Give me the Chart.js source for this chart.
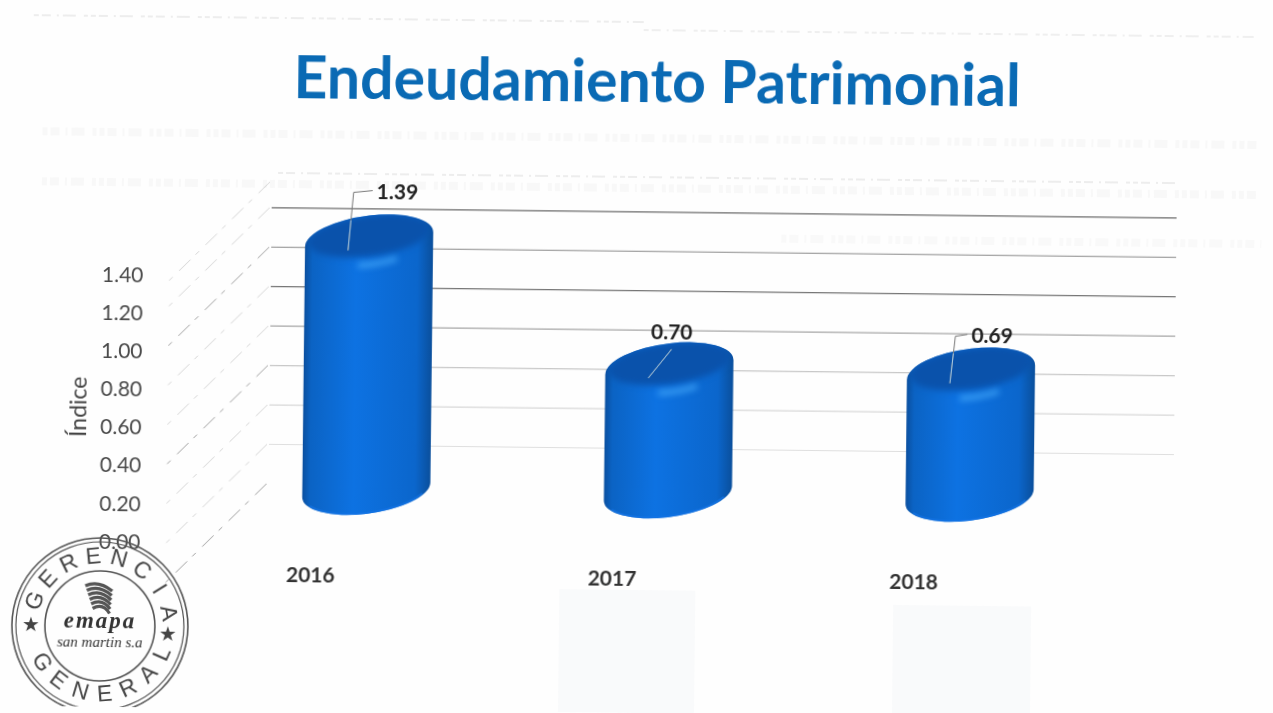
<!DOCTYPE html>
<html>
<head>
<meta charset="utf-8">
<title>Endeudamiento Patrimonial</title>
<script src="https://cdn.jsdelivr.net/npm/chart.js@4"></script>
<style>
    html, body { margin: 0; padding: 0; background: #fefefe; overflow: hidden; }
    /* la hoja escaneada esta un poco girada */
    #chart { display: block; transform: rotate(0.65deg); transform-origin: 636px 356px; }
</style>
</head>
<body>
<canvas id="chart" width="1273" height="713"></canvas>
<script>
// --- Datos ---
const years = ['2016', '2017', '2018'];
const indices = [1.39, 0.70, 0.69];
const tickValues = [0, 0.2, 0.4, 0.6, 0.8, 1.0, 1.2, 1.4];
const wallValues = [0.2, 0.4, 0.6, 0.8, 1.0, 1.2, 1.4];
const wallAlphas = [0.16, 0.2, 0.28, 0.45, 0.7, 0.6, 0.75];
const floorLines = [0, 0.2, 0.4, 0.6, 0.8, 1.0, 1.2, 1.4, 1.53];

// posicion de cada rotulo respecto al centro de la tapa
const labelDx = [5, 2, -2];
const labelDy = [-47, -35, -36];

// --- Fondo: restos del reverso de la hoja ---
const paperPlugin = {
    id: 'paper',
    beforeDraw(chart) {
        const ctx = chart.ctx;
        ctx.save();
        [[30, 22, 640, 2, 0.1], [640, 30, 1250, 2, 0.09], [40, 138, 1260, 8, 0.04],
         [40, 188, 1260, 8, 0.04], [276, 177, 1180, 2, 0.1], [780, 237, 1260, 8, 0.03]].forEach(r => {
            ctx.strokeStyle = `rgba(90,90,90,${r[4]})`;
            ctx.lineWidth = r[3];
            ctx.setLineDash([5, 3, 9, 6, 2, 4, 13, 8, 4, 3]);
            ctx.beginPath();
            ctx.moveTo(r[0], r[1]);
            ctx.lineTo(r[2], r[1]);
            ctx.stroke();
        });
        ctx.setLineDash([]);
        ctx.fillStyle = 'rgba(150,170,195,0.05)';
        ctx.fillRect(562, 590, 136, 123);
        ctx.fillRect(896, 602, 138, 111);
        ctx.restore();
    }
};

// --- Paredes del grafico 3D ---
const wallPlugin = {
    id: 'wall',
    beforeDatasetsDraw(chart) {
        const ctx = chart.ctx;
        const back = chart.scales.yWall;
        const right = chart.chartArea.right + 53;
        ctx.save();
        wallValues.forEach((v, i) => {
            const y = back.getPixelForValue(v);
            ctx.strokeStyle = `rgba(60,60,60,${wallAlphas[i]})`;
            ctx.lineWidth = 1.2;
            ctx.beginPath();
            ctx.moveTo(270, y);
            ctx.lineTo(right, y);
            ctx.stroke();
        });
        ctx.setLineDash([16, 9, 5, 7]);
        floorLines.forEach((v, i) => {
            const y = back.getPixelForValue(v);
            ctx.strokeStyle = i % 3 === 0 ? 'rgba(70,70,70,0.5)' : 'rgba(120,120,120,0.3)';
            ctx.lineWidth = 1;
            ctx.beginPath();
            ctx.moveTo(268, y);
            ctx.lineTo(168, y + 100);
            ctx.stroke();
        });
        ctx.restore();

        // titulo del eje, a la altura de las marcas bajas
        ctx.save();
        ctx.translate(80, 413);
        ctx.rotate(-Math.PI / 2);
        ctx.fillStyle = '#444';
        ctx.font = '23px Lato';
        ctx.textAlign = 'center';
        ctx.textBaseline = 'middle';
        ctx.fillText('Índice', 0, 0);
        ctx.restore();
    }
};

// --- Cilindros dibujados sobre cada barra ---
const cylinderPlugin = {
    id: 'cylinder',
    afterDatasetsDraw(chart) {
        const ctx = chart.ctx;
        const bars = chart.getDatasetMeta(0).data;
        const ry = 24;
        bars.forEach((bar, i) => {
            const w = bar.width / 2;
            const top = bar.y - bar.base;

            ctx.save();
            ctx.translate(bar.x, bar.base);
            ctx.transform(1, -0.125, 0, 1, 0, 0);

            const body = ctx.createLinearGradient(-w, 0, w, 0);
            body.addColorStop(0, '#0a4f9f');
            body.addColorStop(0.06, '#0b63c4');
            body.addColorStop(0.4, '#0d72e2');
            body.addColorStop(0.88, '#0b66cc');
            body.addColorStop(1, '#0a4f9c');
            ctx.fillStyle = body;
            ctx.beginPath();
            ctx.moveTo(-w, top);
            ctx.lineTo(-w, 0);
            ctx.ellipse(0, 0, w, ry, 0, Math.PI, 0, true);
            ctx.lineTo(w, top);
            ctx.ellipse(0, top, w, ry, 0, 0, Math.PI, true);
            ctx.closePath();
            ctx.fill();

            // tapa y brillo, con borde difuso como en la copia
            ctx.save();
            ctx.beginPath();
            ctx.moveTo(-w, top);
            ctx.lineTo(-w, 0);
            ctx.lineTo(w, 0);
            ctx.lineTo(w, top);
            ctx.ellipse(0, top, w, ry, 0, 0, Math.PI, true);
            ctx.closePath();
            ctx.clip();
            ctx.filter = 'blur(3px)';
            ctx.fillStyle = '#0a52ab';
            ctx.beginPath();
            ctx.ellipse(0, top - 4, w - 3, ry - 3, 0, 0, Math.PI * 2);
            ctx.fill();
            ctx.strokeStyle = 'rgba(70,170,250,0.8)';
            ctx.lineWidth = 5;
            ctx.beginPath();
            ctx.ellipse(0, top + 1, w - 6, ry, 0, Math.PI * 0.34, Math.PI * 0.56);
            ctx.stroke();
            ctx.restore();

            // brillo del borde inferior
            ctx.strokeStyle = 'rgba(20,115,230,0.7)';
            ctx.lineWidth = 2;
            ctx.beginPath();
            ctx.ellipse(0, -1, w - 1, ry, 0, Math.PI * 0.15, Math.PI * 0.85);
            ctx.stroke();
            ctx.restore();

            // linea guia y rotulo
            const lx = bar.x + labelDx[i];
            const ly = bar.y + labelDy[i];
            const sx = bar.x - 21;
            const sy = bar.y + 11;
            const ex = i === 1 ? lx : bar.x - 16;
            const ey = i === 1 ? ly + 17 : ly;
            ctx.save();
            ctx.lineWidth = 1;
            ctx.strokeStyle = '#777';
            ctx.beginPath();
            ctx.moveTo(ex, ey);
            if (i !== 1) {
                ctx.moveTo(lx - 2, ly - 2);
                ctx.lineTo(ex, ey);
            }
            ctx.lineTo(sx, sy);
            ctx.stroke();
            const t = Math.min(1, 30 / (sy - ey));
            ctx.strokeStyle = 'rgba(175,215,245,0.9)';
            ctx.beginPath();
            ctx.moveTo(sx, sy);
            ctx.lineTo(sx + (ex - sx) * t, sy + (ey - sy) * t);
            ctx.stroke();
            ctx.fillStyle = '#222';
            ctx.font = 'bold 21px Lato';
            ctx.textAlign = i === 1 ? 'center' : 'left';
            ctx.textBaseline = 'middle';
            ctx.fillText(indices[i].toFixed(2), lx + (i === 1 ? 0 : 2), ly);
            ctx.restore();
        });
    }
};

// --- Sello ---
const stampPlugin = {
    id: 'stamp',
    afterDraw(chart) {
        const ctx = chart.ctx;
        ctx.save();
        ctx.translate(103, 632);
        ctx.strokeStyle = '#555';
        ctx.fillStyle = '#444';
        [[88, 1.6], [84, 1.2], [55, 1.6]].forEach(c => {
            ctx.lineWidth = c[1];
            ctx.beginPath();
            ctx.arc(0, 0, c[0], 0, Math.PI * 2);
            ctx.stroke();
        });

        ctx.textAlign = 'center';
        ctx.textBaseline = 'middle';
        ctx.font = '23px "Liberation Sans"';
        const upper = 'GERENCIA';
        for (let i = 0; i < upper.length; i++) {
            const a = (i - 3.5) * 0.37 + 0.08;
            ctx.save();
            ctx.rotate(a);
            ctx.translate(0, -69);
            ctx.fillText(upper[i], 0, 0);
            ctx.restore();
        }
        const lower = 'GENERAL';
        for (let i = 0; i < lower.length; i++) {
            const a = (3 - i) * 0.36 - 0.08;
            ctx.save();
            ctx.rotate(a);
            ctx.translate(0, 69);
            ctx.fillText(lower[i], 0, 0);
            ctx.restore();
        }
        ctx.font = '20px "DejaVu Sans"';
        ctx.fillText('★', -69, 1);
        ctx.fillText('★', 68, 9);

        // ondas del logo
        ctx.lineWidth = 3.2;
        ctx.strokeStyle = '#555';
        for (let i = 0; i < 6; i++) {
            ctx.beginPath();
            ctx.moveTo(-15 + i * 1.5, -40 + i * 4.5);
            ctx.quadraticCurveTo(-2 + i, -46 + i * 4.5, 12 - i * 0.5, -35 + i * 4.5);
            ctx.stroke();
        }
        ctx.fillStyle = '#333';
        ctx.font = 'italic bold 23px "Liberation Serif"';
        ctx.letterSpacing = '2px';
        ctx.fillText('emapa', 0, -4);
        ctx.letterSpacing = '0px';
        ctx.font = 'italic 15px "Liberation Serif"';
        ctx.fillText('san martin s.a', 0, 17);
        ctx.restore();
    }
};

// --- Grafico ---
const ctx = document.getElementById('chart').getContext('2d');
new Chart(ctx, {
    type: 'bar',
    data: {
        labels: years,
        datasets: [{
            label: 'Índice',
            data: indices,
            yAxisID: 'yBars',
            backgroundColor: 'rgba(0,0,0,0)',
            barThickness: 128
        }]
    },
    plugins: [paperPlugin, wallPlugin, cylinderPlugin, stampPlugin],
    options: {
        responsive: false,
        animation: false,
        layout: { padding: { left: 186, right: 151, top: 0, bottom: 115 } },
        plugins: {
            legend: { display: false },
            tooltip: { enabled: false },
            title: {
                display: true,
                text: 'Endeudamiento Patrimonial',
                color: '#0a6ab4',
                font: { family: 'Lato', size: 59, weight: 'bold', lineHeight: 1.2 },
                padding: { top: 48, bottom: 93 }
            }
        },
        scales: {
            x: {
                grid: { display: false },
                border: { display: false },
                afterFit(scale) { scale.height = 50; },
                ticks: {
                    labelOffset: -55,
                    padding: 11,
                    color: '#333',
                    font: { family: 'Lato', size: 21, weight: 'bold' }
                }
            },
            // eje visible, adelantado respecto a la pared del fondo
            y: {
                min: 0,
                max: 1.762,
                grid: { display: false, drawTicks: false },
                border: { display: false },
                afterFit(scale) { scale.width = 31; },
                afterBuildTicks(scale) {
                    scale.ticks = tickValues.map(v => ({ value: v }));
                },
                ticks: {
                    mirror: true,
                    padding: -116,
                    color: '#4a4a4a',
                    font: { family: 'Lato', size: 21 },
                    callback: v => v.toFixed(2)
                }
            },
            yBars: { display: false, min: -0.3056, max: 1.561 },
            yWall: { display: false, min: -0.3046, max: 1.4 }
        }
    }
});
</script>
</body>
</html>
